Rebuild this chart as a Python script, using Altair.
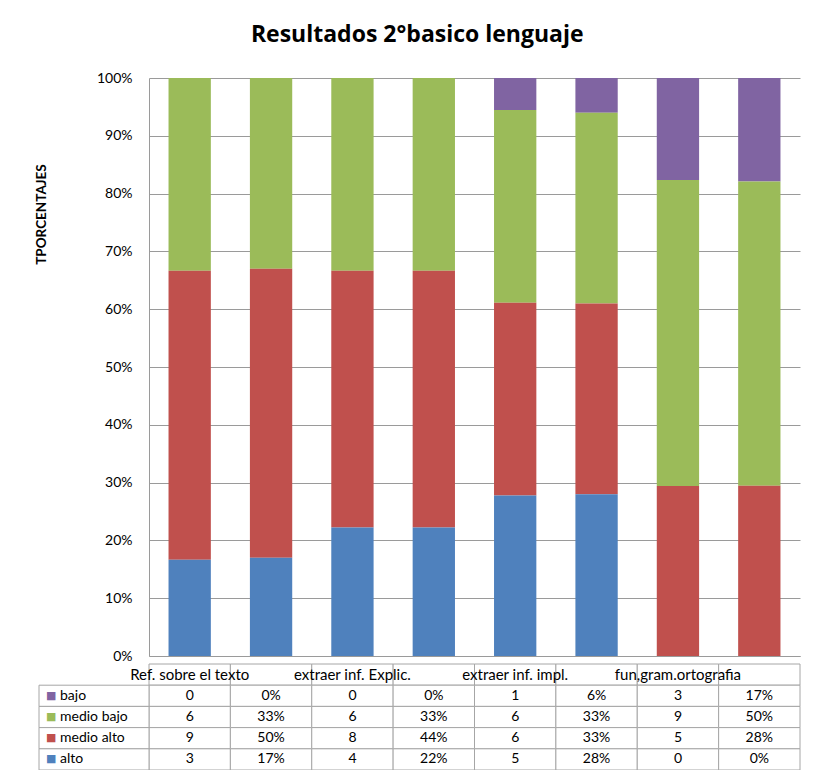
import altair as alt
import pandas as pd

categories = ["Ref. sobre el texto", "extraer inf. Explic.", "extraer inf. impl.", "fun,gram.ortografia"]
series = ["bajo", "medio bajo", "medio alto", "alto"]
colors = ["#8064A2", "#9BBB59", "#C0504D", "#4F81BD"]

# counts (n) and percentages (p) per category
bajo_n = [0, 0, 1, 3]
bajo_p = [0, 0, 6, 17]
medio_bajo_n = [6, 6, 6, 9]
medio_bajo_p = [33, 33, 33, 50]
medio_alto_n = [9, 8, 6, 5]
medio_alto_p = [50, 44, 33, 28]
alto_n = [3, 4, 5, 0]
alto_p = [17, 22, 28, 0]

values = {
    "bajo": (bajo_n, bajo_p),
    "medio bajo": (medio_bajo_n, medio_bajo_p),
    "medio alto": (medio_alto_n, medio_alto_p),
    "alto": (alto_n, alto_p),
}
stack_rank = {"alto": 0, "medio alto": 1, "medio bajo": 2, "bajo": 3}

columns = []
for c in categories:
    columns += [c + " n", c + " p"]

rows = []
for s in series:
    ns, ps = values[s]
    for i, c in enumerate(categories):
        rows.append({"col": c + " n", "serie": s, "amount": ns[i], "label": str(ns[i]), "rank": stack_rank[s]})
        rows.append({"col": c + " p", "serie": s, "amount": ps[i], "label": f"{ps[i]}%", "rank": stack_rank[s]})
df = pd.DataFrame(rows)

header_rows = []
for c in categories:
    header_rows.append({"col": c + " n", "serie": "hdr", "label": c})
    header_rows.append({"col": c + " p", "serie": "hdr", "label": ""})
header_df = pd.DataFrame(header_rows)
table_df = pd.concat([header_df, df[["col", "serie", "label"]]], ignore_index=True)
legend_df = pd.DataFrame({"serie": series})

FONT = "Lato"
GRID = "#9A9A9A"
BORDER = "#A6A6A6"
W, H = 651, 578
TABLE_H = 106

color_scale = alt.Scale(domain=series, range=colors)

bars = alt.Chart(df).mark_bar().encode(
    x=alt.X("col:N",
            scale=alt.Scale(domain=columns, paddingInner=0.48, paddingOuter=0.24),
            axis=alt.Axis(title=None, labels=False, ticks=False, grid=False, domainColor=GRID)),
    y=alt.Y("amount:Q", stack="normalize",
            axis=alt.Axis(format=".0%", tickCount=10, title="TPORCENTAJES",
                          titleFont=FONT, titleFontSize=13.5, titleFontWeight="bold", titleColor="black",
                          titlePadding=9, titleY=136, minExtent=92,
                          labelFont=FONT, labelFontSize=14, labelColor="black",
                          labelPadding=17, ticks=False, domainColor=GRID, gridColor=GRID)),
    color=alt.Color("serie:N", scale=color_scale, legend=None),
    order=alt.Order("rank:Q"),
).properties(width=W, height=H)

row_scale = alt.Scale(domain=["hdr"] + series, paddingInner=0, paddingOuter=0)
col_x = alt.X("col:N", scale=alt.Scale(domain=columns, paddingInner=0, paddingOuter=0), axis=None)
row_y = alt.Y("serie:N", scale=row_scale, axis=None)

cells = alt.Chart(table_df).mark_rect(fill="white", stroke=BORDER, strokeWidth=1).encode(
    x=col_x, y=row_y,
)
cell_text = alt.Chart(df).mark_text(font=FONT, fontSize=14, color="black").encode(
    x=col_x, y=row_y, text="label:N",
)
header_text = alt.Chart(header_df).mark_text(font=FONT, fontSize=15, color="black").encode(
    x=col_x, y=row_y, text="label:N",
)
leg_cells = alt.Chart(legend_df).mark_rect(fill="white", stroke=BORDER, strokeWidth=1).encode(
    y=row_y, x=alt.value(-110), x2=alt.value(0),
)
leg_swatch = alt.Chart(legend_df).mark_text(text="■", font="DejaVu Sans", fontSize=11, align="left").encode(
    y=row_y, x=alt.value(-103),
    color=alt.Color("serie:N", scale=color_scale, legend=None),
)
leg_names = alt.Chart(legend_df).mark_text(font=FONT, fontSize=14, color="black", align="left").encode(
    y=row_y, x=alt.value(-89), text="serie:N",
)
table = alt.layer(cells, cell_text, header_text, leg_cells, leg_swatch, leg_names).properties(
    width=W, height=TABLE_H)

chart = alt.vconcat(bars, table, spacing=0).properties(
    title=alt.TitleParams("Resultados 2°basico lenguaje", font="Open Sans", fontSize=23, fontWeight="bold",
                          color="black", anchor="middle", offset=24),
    padding={"left": 26, "top": 16, "right": 10, "bottom": 0},
).configure_view(strokeWidth=0)

chart.save("out.html", embed_options={"renderer": "svg", "actions": False})
